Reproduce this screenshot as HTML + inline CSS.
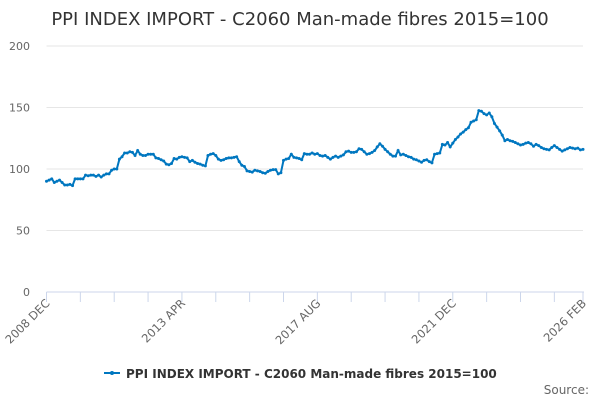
<!DOCTYPE html>
<html><head><meta charset="utf-8"><style>
body{margin:0;width:600px;height:400px;background:#fff;overflow:hidden;font-family:"Liberation Sans","DejaVu Sans",sans-serif}
svg{display:block}
</style></head><body>
<svg id="chart" width="600" height="400">
<text x="300" y="25" text-anchor="middle" font-family="DejaVu Sans, sans-serif" font-size="18" fill="#333">PPI INDEX IMPORT - C2060 Man-made fibres 2015=100</text>
<g id="grid"></g><g id="xaxis"></g><g id="series"></g>
<g>
<line x1="104" y1="373" x2="120" y2="373" stroke="#0077c0" stroke-width="2"/>
<circle cx="112" cy="373" r="2" fill="#0077c0"/>
<text x="126" y="378" font-family="DejaVu Sans, sans-serif" font-size="12" font-weight="bold" fill="#333">PPI INDEX IMPORT - C2060 Man-made fibres 2015=100</text>
</g>
<text x="589" y="394" text-anchor="end" font-family="DejaVu Sans, sans-serif" font-size="12" fill="#666">Source:</text>
</svg>
<script>
const values=[90,91,92,89,90,91,89,87,87,87.5,86.5,92,92,92,92,95,94.5,95,95,94,95,93.5,95,96,96,99,100,100,108,110,113,113,114,113.5,111,115,112,111,111,112,112,112,109,108.5,107.5,106.5,104,103.5,104.5,108.5,108,109.5,110,109.5,109,106,107,105.5,104.5,104,103,102.5,111,112,112.5,111,108,107,107.5,108.5,109,109,109.5,110,106,103,102,98.5,98,97.5,99,98.5,98,97,96.5,98,99,99.5,99.5,96,97,107,108,108.5,112,109.5,109,108.5,107.5,112.5,112,112,113,112,112.5,111,110.5,111,109.5,108,109.5,110.5,109.5,110.5,111.5,114,114.5,113.5,113.5,114,116.5,116,114,112,112.5,113.5,115,118,120.5,118.5,116,114,112,110.5,110.5,115,111.5,112,111,110,109.5,108,107.5,106.5,105.5,107,107.5,106,105,112,112.5,113,120,119.5,121.5,118,121,124,126,128.5,130,132,133.5,138,139,140,147.5,147,145,144,145.5,142.5,137,134,131,127.5,123,124,123,122.5,121.5,120.5,119.5,120,121,121.5,120.5,118.5,120,119,117.5,116.5,116,115.5,117.5,119,117.5,116,114.5,115.5,116.5,117.5,117,116.5,117,115.5,116];
const yTicks=[0,50,100,150,200];
const xLabels=[[0,"2008 DEC"],[52,"2013 APR"],[104,"2017 AUG"],[156,"2021 DEC"],[206,"2026 FEB"]];
const X0=46.5,X1=583,Y0=292,Y1=46,N=values.length-1;
const xs=i=>X0+(X1-X0)*i/N, ys=v=>Y0-(Y0-Y1)*v/200;
const NS="http://www.w3.org/2000/svg";
function mk(t,a,p){const e=document.createElementNS(NS,t);for(const k in a)e.setAttribute(k,a[k]);p.appendChild(e);return e;}
const grid=document.getElementById('grid');
yTicks.forEach(v=>{
 if(v>0){const l=mk('line',{x1:X0,x2:X1,y1:ys(v),y2:ys(v),stroke:'#e6e6e6','stroke-width':1},grid);
 
 }
 const t=mk('text',{x:30,y:ys(v)+4,'text-anchor':'end','font-size':11,fill:'#666','font-family':'DejaVu Sans, sans-serif'},grid);
 t.textContent=v;
 
 
});
const xa=document.getElementById('xaxis');
const ax=mk('line',{x1:X0,x2:X1+1,y1:Y0,y2:Y0,stroke:'#ccd6eb','stroke-width':1},xa);


const tk=[];for(let i=0;i<=N;i+=13)tk.push(i);tk.push(N);
tk.forEach(i=>{const l=mk('line',{x1:xs(i),x2:xs(i),y1:Y0,y2:Y0+10,stroke:'#ccd6eb'},xa);
 
 });
xLabels.forEach(([i,s])=>{const x=xs(i)+4,y=Y0+12;
 const t=mk('text',{x:x,y:y,'text-anchor':'end','font-size':11.5,fill:'#666','font-family':'DejaVu Sans, sans-serif',transform:`rotate(-45 ${x} ${y})`},xa);
 t.textContent=s;
 
 });
const sg=document.getElementById('series');
const p=mk('path',{d:values.map((v,i)=>(i?'L':'M')+xs(i).toFixed(1)+' '+ys(v).toFixed(1)).join(''),fill:'none',stroke:'#0077c0','stroke-width':2},sg);


values.forEach((v,i)=>{const c=mk('circle',{cx:xs(i),cy:ys(v),r:1.5,fill:'#0077c0'},sg);
 
 });
</script>
</body></html>
